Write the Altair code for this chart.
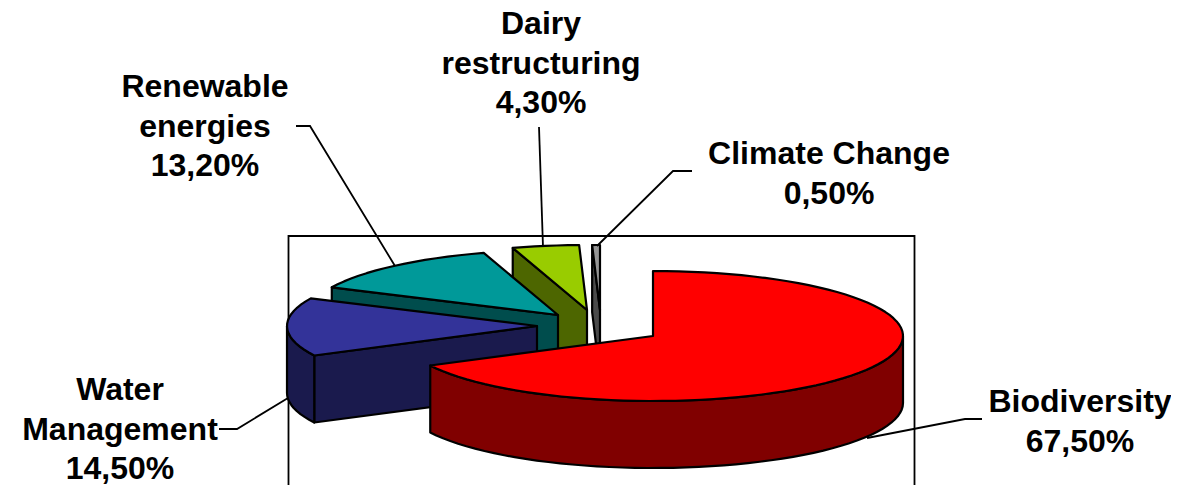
import math
import altair as alt

# --- data ---
names = ["Biodiversity", "Water Management", "Renewable energies", "Dairy restructuring", "Climate Change"]
shares = [67.5, 14.5, 13.2, 4.3, 0.5]
top_colors = ["#FF0000", "#333399", "#009999", "#99CC00", "#969696"]
wall_colors = ["#800000", "#1A1A4D", "#004D4D", "#4D6600", "#4B4B4B"]

label_lines = [
    ["Biodiversity", "67,50%"],
    ["Water", "Management", "14,50%"],
    ["Renewable", "energies", "13,20%"],
    ["Dairy", "restructuring", "4,30%"],
    ["Climate Change", "0,50%"],
]

# --- layout (page pixels, page margin removed below) ---
M = 8
RX, RY, DEPTH = 250, 65, 67
centers = [(653, 336), (537, 326), (558, 315), (587, 310), (600, 310)]
label_anchor = [(1080, 412), (120, 400), (205, 97), (541, 34), (829, 164)]
line_gap = 39.7
font_size = 32
leaders = [
    [(982, 419), (965, 419), (867, 438)],
    [(219, 429), (237, 429), (288, 398)],
    [(296, 126), (310, 126), (395, 266)],
    [(539, 127), (543, 247)],
    [(692, 171), (673, 171), (597, 246)],
]
frame = [(288.5, 490), (288.5, 236), (914.5, 236), (914.5, 490)]


def P(x, y):
    return [x - M, y - M]


def rim(c, a, dz=0):
    t = math.radians(a)
    return P(c[0] + RX * math.sin(t), c[1] - RY * math.cos(t) + dz)


def arc(c, a0, a1, dz=0):
    n = max(2, int(abs(a1 - a0) / 3) + 1)
    return [rim(c, a0 + (a1 - a0) * i / n, dz) for i in range(n + 1)]


def poly(points, color):
    return {"type": "Feature", "properties": {"color": color},
            "geometry": {"type": "Polygon", "coordinates": [points + [points[0]]]}}


def line(points):
    return {"type": "Feature", "properties": {},
            "geometry": {"type": "LineString", "coordinates": [P(*p) for p in points]}}


# slices are cut from the shares, clockwise from 12 o'clock
edges = [0]
for s in shares:
    edges.append(edges[-1] + s * 3.6)

faces = []
for i in reversed(range(len(shares))):
    c, a0, a1 = centers[i], edges[i], edges[i + 1]
    tip, tip_low = P(*c), P(c[0], c[1] + DEPTH)
    if math.sin(math.radians(a0)) < -1e-6:
        faces.append(poly([tip, rim(c, a0), rim(c, a0, DEPTH), tip_low], wall_colors[i]))
    if math.sin(math.radians(a1)) > 1e-6:
        faces.append(poly([tip, rim(c, a1), rim(c, a1, DEPTH), tip_low], wall_colors[i]))
    f0, f1 = max(a0, 90), min(a1, 270)
    if f1 > f0:
        faces.append(poly(arc(c, f0, f1) + arc(c, f1, f0, DEPTH), wall_colors[i]))
    faces.append(poly([tip] + arc(c, a0, a1), top_colors[i]))

text_rows = []
for lines, (x, y) in zip(label_lines, label_anchor):
    for j, t in enumerate(lines):
        lon, lat = P(x, y + j * line_gap)
        text_rows.append({"t": t, "lon": lon, "lat": lat})

proj = dict(type="identity", scale=1, translate=[0, 0])

frame_layer = alt.Chart(alt.Data(values=[line(frame)])).mark_geoshape(
    filled=False, stroke="black", strokeWidth=1.8
).project(**proj)

face_layer = alt.Chart(alt.Data(values=faces)).mark_geoshape(
    stroke="black", strokeWidth=2.2, strokeJoin="round"
).encode(fill=alt.Fill("properties.color:N", scale=None, legend=None)).project(**proj)

leader_layer = alt.Chart(alt.Data(values=[line(l) for l in leaders])).mark_geoshape(
    filled=False, stroke="black", strokeWidth=1.8
).project(**proj)

text_layer = alt.Chart(alt.Data(values=text_rows)).mark_text(
    font="Liberation Sans", fontWeight="bold", fontSize=font_size,
    align="center", baseline="alphabetic", color="black"
).encode(longitude="lon:Q", latitude="lat:Q", text="t:N").project(**proj)

chart = alt.layer(frame_layer, face_layer, leader_layer, text_layer).properties(
    width=1163, height=477, padding=0, autosize=alt.AutoSizeParams(type="none")
).configure_view(stroke=None)

chart.save("out.html", embed_options={"renderer": "svg", "actions": False})
